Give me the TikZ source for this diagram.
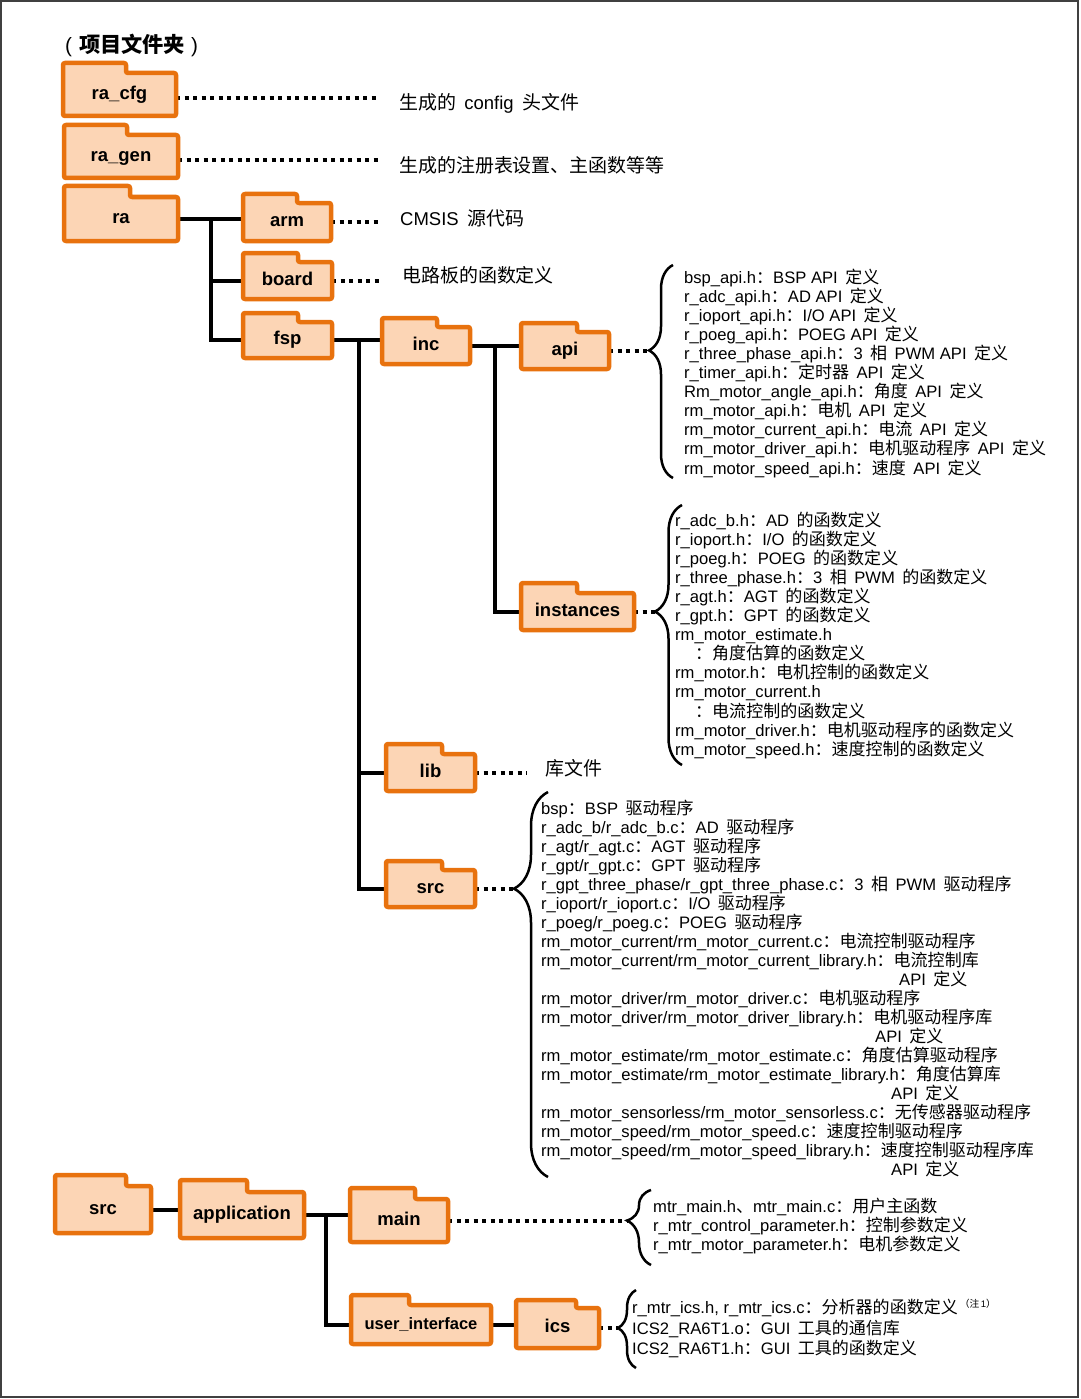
\documentclass[tikz,border=0pt]{standalone}
\usepackage{fontspec}
\setmainfont{Liberation Sans}
\newfontfamily\cjk[Scale=1.025]{Noto Sans CJK SC}
\usetikzlibrary{decorations.pathreplacing,fit,backgrounds}
\definecolor{forange}{RGB}{232,114,14}
\definecolor{fpeach}{RGB}{252,213,181}
\newcommand\ZH[1]{{\cjk #1}}
\newcommand\gapx{\hspace{0.45em}}
\newcommand\mkline[4]{\node[lbl] (#1) at (#2,#3) {#4};}
\newcommand\folder[8]{%
  \draw[fshape] (#3,#7) -- (#3,#5) -- (#8,#5) -- (#8,#6) -- (#4,#6) -- (#4,#7) -- cycle;
  \node[fbox, fit={(#3,#6) (#4,#7)}] (#1) {};
  \node[flabel] (#1-t) at (#1.center) {#2};
}
\begin{document}
\begin{tikzpicture}[x=1pt,y=-1pt,
  fshape/.style={draw=forange, fill=fpeach, line width=4.5pt, rounded corners=2pt, line join=round},
  fbox/.style={inner sep=0pt, draw=none},
  flabel/.style={font=\fontsize{18.5}{20}\selectfont\bfseries, inner sep=0pt, text height=13.5pt, text depth=4pt},
  lbl/.style={anchor=base west, inner sep=0pt, font=\fontsize{16.6}{19}\selectfont},
  big/.style={anchor=base west, inner sep=0pt, font=\fontsize{18.5}{20}\selectfont},
  tree/.style={line width=4pt},
  dotl/.style={line width=4pt, dash pattern=on 4pt off 4.5pt},
  brc/.style={line width=2.5pt, decorate},
]
\useasboundingbox (0,0) rectangle (1080,1399);
\draw[line width=2pt, black!75] (1,1) rectangle (1078,1397);

% title
\node[anchor=base west, inner sep=0pt, font=\fontsize{20.7}{22}\selectfont] (title) at (65,53) {(\hspace{7pt}\ZH{\bfseries 项目文件夹}\hspace{6pt})};

% folders: name, label, x1, x2, ytab, ybody, ybot, xtab
\folder{racfg}{ra\_cfg}{63}{176}{63}{73}{116}{126}
\folder{ragen}{ra\_gen}{64}{178}{125}{135}{178}{127}
\folder{ra}{ra}{64}{178}{186}{197}{241}{130}
\folder{arm}{arm}{243}{331}{194}{203}{241}{297}
\folder{board}{board}{243}{332}{253}{262}{299}{298}
\folder{fsp}{fsp}{243}{332}{313}{322}{358}{298}
\folder{inc}{inc}{382}{470}{318}{327}{364}{437}
\folder{api}{api}{521}{609}{323}{332}{369}{577}
\folder{inst}{instances}{521}{634}{583}{593}{630}{577}
\folder{lib}{lib}{386}{475}{744}{754}{791}{442}
\folder{srcA}{src}{386}{475}{861}{870}{907}{442}
\folder{srcB}{src}{55}{151}{1175}{1186}{1233}{126}
\folder{app}{application}{180}{304}{1180}{1192}{1238}{247}
\folder{main}{main}{350}{448}{1188}{1199}{1242}{415}
\folder{ui}{\fontsize{16.5}{18}\selectfont user\_interface}{351}{491}{1295}{1305}{1344}{409}
\folder{ics}{ics}{516}{599}{1300}{1308}{1348}{576}

% top labels
\node[big] (tcfg) at (399,110) {\ZH{生成的}\gapx config\gapx\ZH{头文件}};
\node[big] (tgen) at (399,172) {\ZH{生成的注册表设置、主函数等等}};
\node[big] (tarm) at (400,225) {CMSIS\gapx\ZH{源代码}};
\node[big] (tboard) at (402,282) {\ZH{电路板的函数定义}};
\node[big] (tlib) at (545,775) {\ZH{库文件}};

% api list
\mkline{a1}{684}{283}{bsp\_api.h\ZH{：}BSP API\gapx\ZH{定义}}
\mkline{a2}{684}{302.1}{r\_adc\_api.h\ZH{：}AD API\gapx\ZH{定义}}
\mkline{a3}{684}{321.2}{r\_ioport\_api.h\ZH{：}I/O API\gapx\ZH{定义}}
\mkline{a4}{684}{340.3}{r\_poeg\_api.h\ZH{：}POEG API\gapx\ZH{定义}}
\mkline{a5}{684}{359.4}{r\_three\_phase\_api.h\ZH{：}3\gapx\ZH{相}\gapx PWM API\gapx\ZH{定义}}
\mkline{a6}{684}{378.5}{r\_timer\_api.h\ZH{：定时器}\gapx API\gapx\ZH{定义}}
\mkline{a7}{684}{397.6}{Rm\_motor\_angle\_api.h\ZH{：角度}\gapx API\gapx\ZH{定义}}
\mkline{a8}{684}{416.7}{rm\_motor\_api.h\ZH{：电机}\gapx API\gapx\ZH{定义}}
\mkline{a9}{684}{435.8}{rm\_motor\_current\_api.h\ZH{：电流}\gapx API\gapx\ZH{定义}}
\mkline{a10}{684}{454.9}{rm\_motor\_driver\_api.h\ZH{：电机驱动程序}\gapx API\gapx\ZH{定义}}
\mkline{a11}{684}{474}{rm\_motor\_speed\_api.h\ZH{：速度}\gapx API\gapx\ZH{定义}}

% instances list
\mkline{i1}{675}{526}{r\_adc\_b.h\ZH{：}AD\gapx\ZH{的函数定义}}
\mkline{i2}{675}{545.1}{r\_ioport.h\ZH{：}I/O\gapx\ZH{的函数定义}}
\mkline{i3}{675}{564.2}{r\_poeg.h\ZH{：}POEG\gapx\ZH{的函数定义}}
\mkline{i4}{675}{583.3}{r\_three\_phase.h\ZH{：}3\gapx\ZH{相}\gapx PWM\gapx\ZH{的函数定义}}
\mkline{i5}{675}{602.4}{r\_agt.h\ZH{：}AGT\gapx\ZH{的函数定义}}
\mkline{i6}{675}{621.5}{r\_gpt.h\ZH{：}GPT\gapx\ZH{的函数定义}}
\mkline{i7}{675}{640.6}{rm\_motor\_estimate.h}
\mkline{i8}{695}{659.7}{\ZH{：角度估算的函数定义}}
\mkline{i9}{675}{678.8}{rm\_motor.h\ZH{：电机控制的函数定义}}
\mkline{i10}{675}{697.9}{rm\_motor\_current.h}
\mkline{i11}{695}{717}{\ZH{：电流控制的函数定义}}
\mkline{i12}{675}{736.1}{rm\_motor\_driver.h\ZH{：电机驱动程序的函数定义}}
\mkline{i13}{675}{755.2}{rm\_motor\_speed.h\ZH{：速度控制的函数定义}}

% src list
\mkline{s1}{541}{814}{bsp\ZH{：}BSP\gapx\ZH{驱动程序}}
\mkline{s2}{541}{833.05}{r\_adc\_b/r\_adc\_b.c\ZH{：}AD\gapx\ZH{驱动程序}}
\mkline{s3}{541}{852.1}{r\_agt/r\_agt.c\ZH{：}AGT\gapx\ZH{驱动程序}}
\mkline{s4}{541}{871.15}{r\_gpt/r\_gpt.c\ZH{：}GPT\gapx\ZH{驱动程序}}
\mkline{s5}{541}{890.2}{r\_gpt\_three\_phase/r\_gpt\_three\_phase.c\ZH{：}3\gapx\ZH{相}\gapx PWM\gapx\ZH{驱动程序}}
\mkline{s6}{541}{909.25}{r\_ioport/r\_ioport.c\ZH{：}I/O\gapx\ZH{驱动程序}}
\mkline{s7}{541}{928.3}{r\_poeg/r\_poeg.c\ZH{：}POEG\gapx\ZH{驱动程序}}
\mkline{s8}{541}{947.35}{rm\_motor\_current/rm\_motor\_current.c\ZH{：电流控制驱动程序}}
\mkline{s9}{541}{966.4}{rm\_motor\_current/rm\_motor\_current\_library.h\ZH{：电流控制库}}
\mkline{s10}{899}{985.45}{API\gapx\ZH{定义}}
\mkline{s11}{541}{1004.5}{rm\_motor\_driver/rm\_motor\_driver.c\ZH{：电机驱动程序}}
\mkline{s12}{541}{1023.55}{rm\_motor\_driver/rm\_motor\_driver\_library.h\ZH{：电机驱动程序库}}
\mkline{s13}{875}{1042.6}{API\gapx\ZH{定义}}
\mkline{s14}{541}{1061.65}{rm\_motor\_estimate/rm\_motor\_estimate.c\ZH{：角度估算驱动程序}}
\mkline{s15}{541}{1080.7}{rm\_motor\_estimate/rm\_motor\_estimate\_library.h\ZH{：角度估算库}}
\mkline{s16}{891}{1099.75}{API\gapx\ZH{定义}}
\mkline{s17}{541}{1118.8}{rm\_motor\_sensorless/rm\_motor\_sensorless.c\ZH{：无传感器驱动程序}}
\mkline{s18}{541}{1137.85}{rm\_motor\_speed/rm\_motor\_speed.c\ZH{：速度控制驱动程序}}
\mkline{s19}{541}{1156.9}{rm\_motor\_speed/rm\_motor\_speed\_library.h\ZH{：速度控制驱动程序库}}
\mkline{s20}{891}{1175.95}{API\gapx\ZH{定义}}

% main list
\mkline{m1}{653}{1212}{mtr\_main.h\ZH{、}mtr\_main.c\ZH{：用户主函数}}
\mkline{m2}{653}{1231}{r\_mtr\_control\_parameter.h\ZH{：控制参数定义}}
\mkline{m3}{653}{1250}{r\_mtr\_motor\_parameter.h\ZH{：电机参数定义}}

% ics list
\mkline{c1}{632}{1313}{r\_mtr\_ics.h, r\_mtr\_ics.c\ZH{：分析器的函数定义}\hspace{2pt}\raisebox{6pt}{\fontsize{9.5}{9.5}\selectfont\ZH{（注}\,1\ZH{）}}}
\mkline{c2}{632}{1334}{ICS2\_RA6T1.o\ZH{：}GUI\gapx\ZH{工具的通信库}}
\mkline{c3}{632}{1354}{ICS2\_RA6T1.h\ZH{：}GUI\gapx\ZH{工具的函数定义}}

% braces
\draw[brc, decoration={brace, amplitude=24pt, aspect=0.599}] (673,478) -- (673,265);
\coordinate (apitip) at (649,350.5);
\draw[brc, decoration={brace, amplitude=27pt, aspect=0.59}] (682,765) -- (682,505);
\coordinate (insttip) at (655,611.5);
\draw[brc, decoration={brace, amplitude=34pt, aspect=0.749}] (548,1177) -- (548,792);
\coordinate (srctip) at (514,888.5);
\draw[brc, decoration={brace, amplitude=24pt, aspect=0.593}] (651,1265) -- (651,1190);
\coordinate (maintip) at (627,1220.5);
\draw[brc, decoration={brace, amplitude=18pt, aspect=0.513}] (636,1368) -- (636,1290);
\coordinate (icstip) at (618,1328);

% connector end points
\coordinate (e1) at (378,98);
\coordinate (e2) at (381,160);
\coordinate (e3) at (382,0);
\coordinate (e4) at (383,0);
\coordinate (e5) at (527,0);
\coordinate (jra) at (211,0);
\coordinate (jfsp) at (359,0);
\coordinate (jinc) at (495,0);
\coordinate (japp) at (326,0);

\begin{pgfonlayer}{background}
% solid tree
\draw[tree] (ra.east) -- (ra.east -| arm.west);
\draw[tree] (jra |- ra.east) |- (fsp.west);
\draw[tree] (jra |- board.west) -- (board.west);
\draw[tree] (fsp.east) -- (fsp.east -| inc.west);
\draw[tree] (jfsp |- fsp.east) |- (srcA.west);
\draw[tree] (jfsp |- lib.west) -- (lib.west);
\draw[tree] (inc.east) -- (inc.east -| api.west);
\draw[tree] (jinc |- inc.east) |- (inst.west);
\draw[tree] (srcB.east) -- (srcB.east -| app.west);
\draw[tree] (app.east) -- (app.east -| main.west);
\draw[tree] (japp |- app.east) |- (ui.west);
\draw[tree] (ui.east) -- (ui.east -| ics.west);
% dotted
\draw[dotl] (racfg.east |- e1) -- (e1);
\draw[dotl] (ragen.east |- e2) -- (e2);
\draw[dotl] (arm.east) -- (arm.east -| e3);
\draw[dotl] (board.east) -- (board.east -| e4);
\draw[dotl] (lib.east) -- (lib.east -| e5);
\draw[dotl] (api.east) -- (api.east -| apitip);
\draw[dotl] (inst.east) -- (inst.east -| insttip);
\draw[dotl] (srcA.east) -- (srcA.east -| srctip);
\draw[dotl] (main.east) -- (main.east -| maintip);
\draw[dotl] (ics.east) -- (ics.east -| icstip);
\end{pgfonlayer}
\end{tikzpicture}
\end{document}
